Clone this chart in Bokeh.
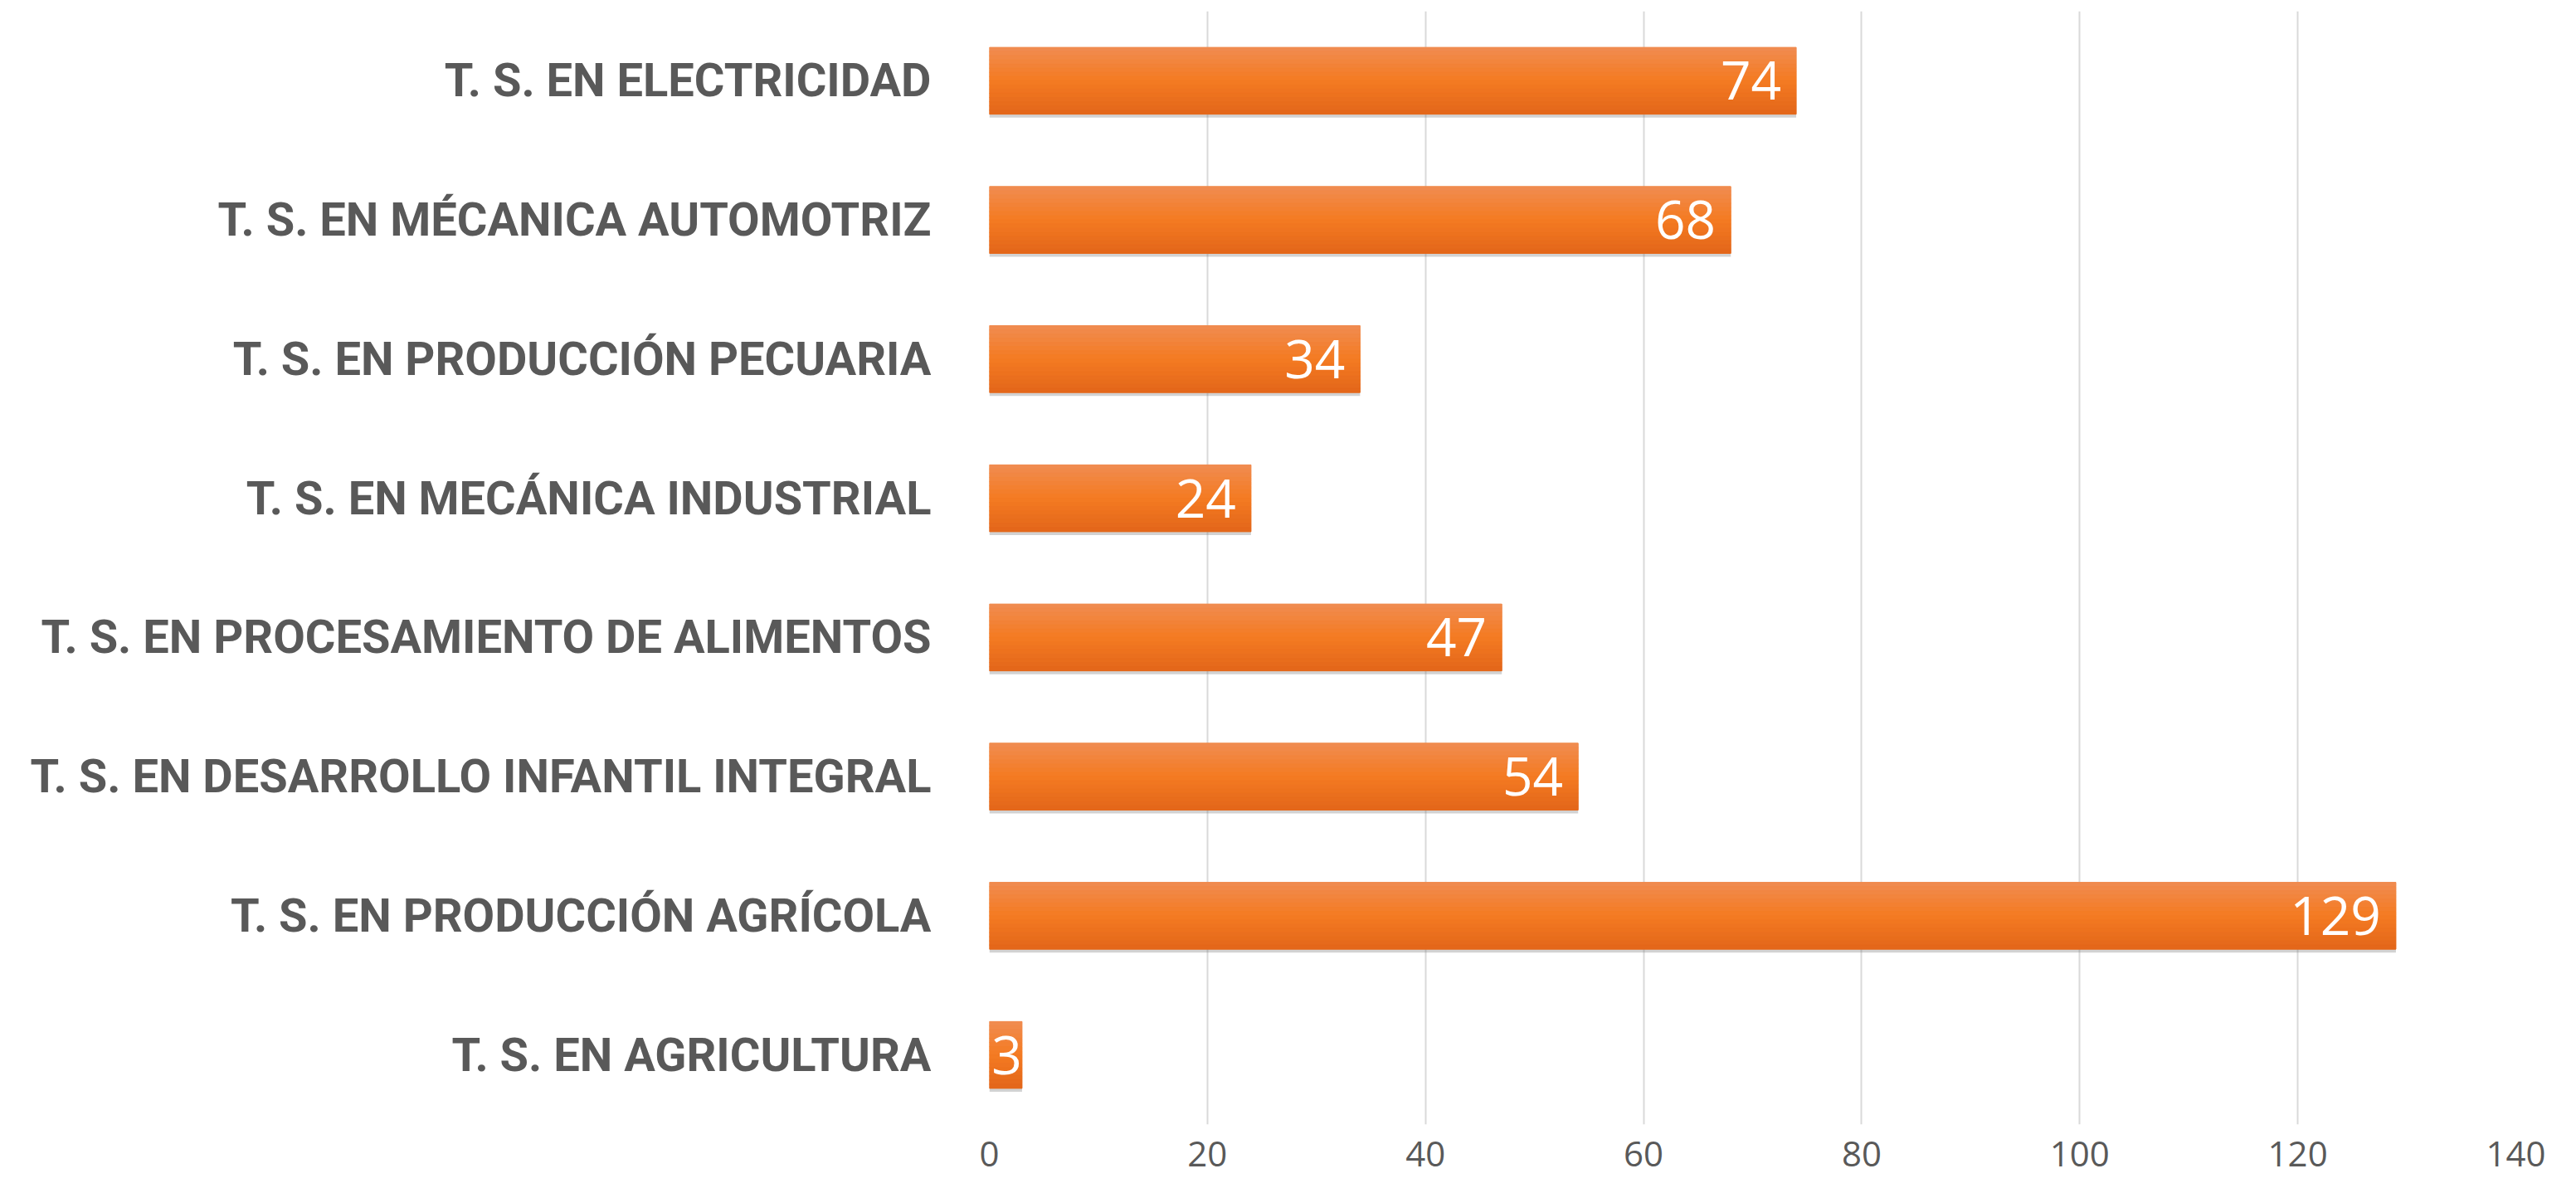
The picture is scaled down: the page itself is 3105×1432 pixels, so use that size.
from bokeh.plotting import figure
from bokeh.models import ColumnDataSource, Range1d, FactorRange, LabelSet, FixedTicker
from bokeh.transform import dodge
from bokeh.core.properties import value
from bokeh.embed import file_html
from bokeh.resources import INLINE

# Data (top to bottom as displayed)
categories = [
    "T. S. EN ELECTRICIDAD",
    "T. S. EN MÉCANICA AUTOMOTRIZ",
    "T. S. EN PRODUCCIÓN PECUARIA",
    "T. S. EN MECÁNICA INDUSTRIAL",
    "T. S. EN PROCESAMIENTO DE ALIMENTOS",
    "T. S. EN DESARROLLO INFANTIL INTEGRAL",
    "T. S. EN PRODUCCIÓN AGRÍCOLA",
    "T. S. EN AGRICULTURA",
]
values = [74, 68, 34, 24, 47, 54, 129, 3]
x_ticks = [0, 20, 40, 60, 80, 100, 120, 140]

factors = categories[::-1]
label_offsets = [-18 if v >= 10 else 0 for v in values]
src = ColumnDataSource(dict(cat=categories, val=values,
                            txt=[str(v) for v in values], xoff=label_offsets))

W, H = 3105, 1432
p = figure(width=W, height=H, output_backend="svg", toolbar_location=None,
           x_range=Range1d(0, 140), y_range=FactorRange(*factors, range_padding=0),
           min_border_left=1192, min_border_right=73, min_border_top=13, min_border_bottom=77)
p.outline_line_color = None
p.background_fill_color = "white"
p.border_fill_color = "white"

# grid
p.xgrid.grid_line_color = "#D9D9D9"
p.xgrid.grid_line_width = 2
p.ygrid.grid_line_color = None
p.xaxis.ticker = FixedTicker(ticks=x_ticks)

# axes
for ax in (p.xaxis, p.yaxis):
    ax.axis_line_color = None
    ax.major_tick_line_color = None
    ax.minor_tick_line_color = None
    ax.major_tick_out = 0
    ax.major_tick_in = 0
    ax.major_label_text_color = "#595959"
p.xaxis.major_label_text_font = "Open Sans"
p.xaxis.major_label_text_font_size = "42px"
p.xaxis.major_label_standoff = 20
p.yaxis.major_label_text_font = "Roboto"
p.yaxis.major_label_text_font_style = "bold"
p.yaxis.major_label_text_font_size = "56px"
p.yaxis.major_label_standoff = 70

BAR_H = 0.48
# shadow
p.hbar(y=dodge("cat", -0.025, range=p.y_range), left=0, right="val", height=BAR_H,
       source=src, fill_color="#7F7F7F", fill_alpha=0.35, line_color=None)

# gradient bar built from strips
def lerp(c1, c2, t):
    a = [int(c1[i:i+2], 16) for i in (1, 3, 5)]
    b = [int(c2[i:i+2], 16) for i in (1, 3, 5)]
    return "#%02x%02x%02x" % tuple(round(a[k] + (b[k] - a[k]) * t) for k in range(3))

TOP, MID, BOT = "#F08C52", "#F47B22", "#E3661A"
N = 16
p.hbar(y="cat", left=0, right="val", height=BAR_H, source=src,
       fill_color=MID, line_color=None)
for i in range(N):
    t = (i + 0.5) / N  # 0 = top, 1 = bottom
    col = lerp(TOP, MID, t / 0.5) if t < 0.5 else lerp(MID, BOT, (t - 0.5) / 0.5)
    off = BAR_H / 2 - (i + 0.5) * BAR_H / N
    p.hbar(y=dodge("cat", off, range=p.y_range), left=0, right="val",
           height=BAR_H / N, source=src, fill_color=col, line_color=col, line_width=1)

labels = LabelSet(x="val", y="cat", text="txt", source=src, x_offset="xoff",
                  text_align="right", text_baseline="middle", text_color="white",
                  text_font=value("Open Sans"), text_font_size="64px")
p.add_layout(labels)

open("out.html", "w").write(file_html(p, INLINE))
